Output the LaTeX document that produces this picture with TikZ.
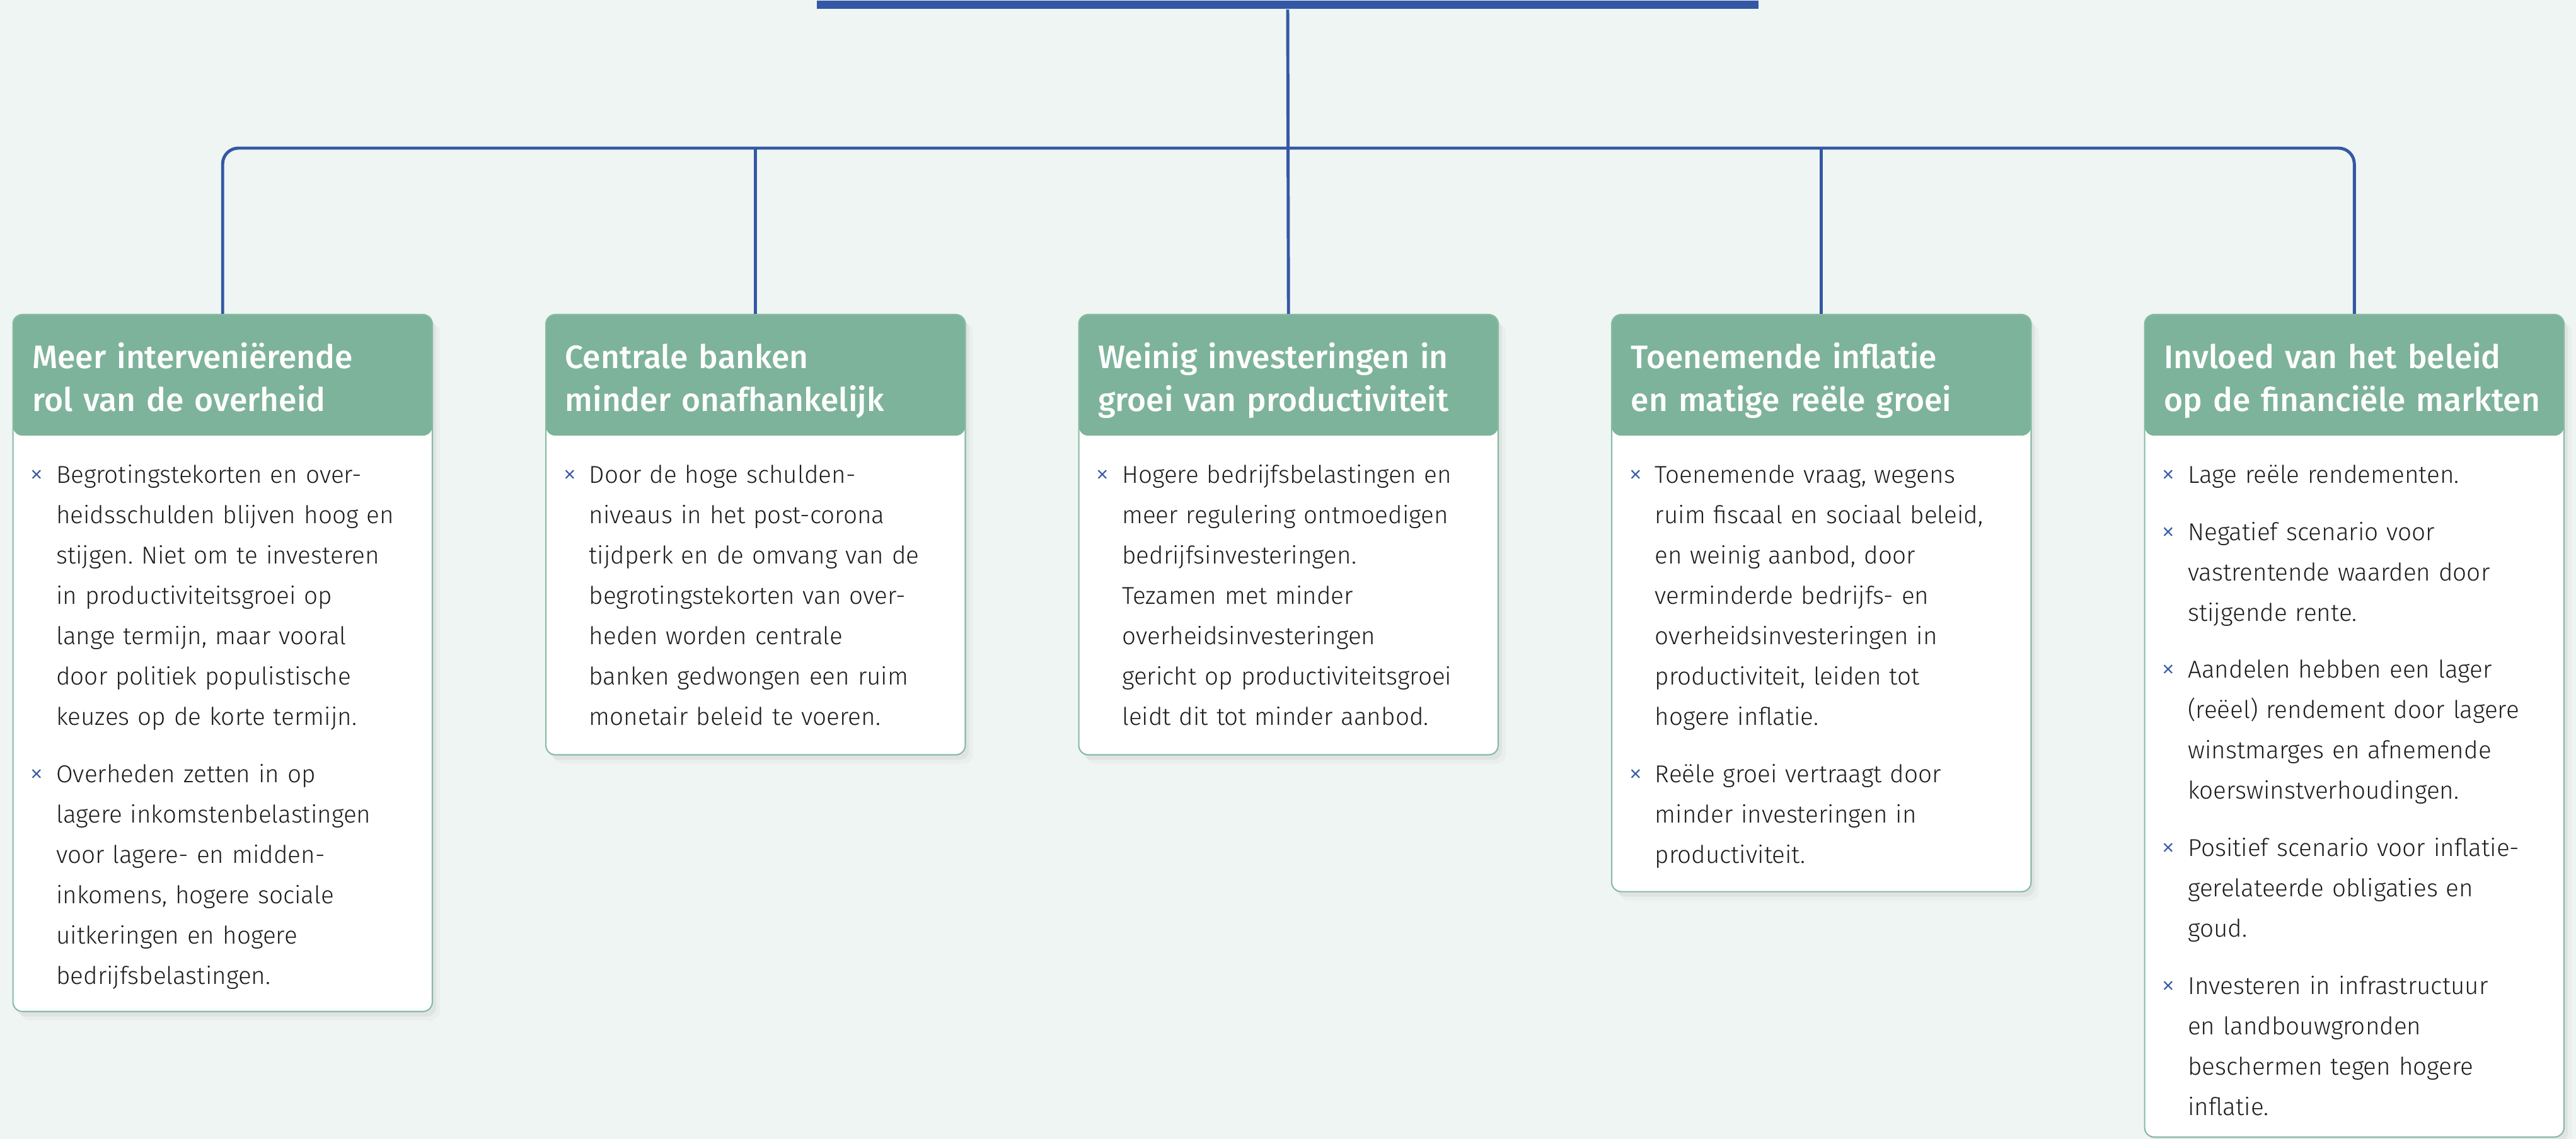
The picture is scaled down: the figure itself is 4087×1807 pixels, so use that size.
\documentclass[tikz,border=0pt]{standalone}
\usepackage{fontspec}
\setmainfont{Fira Sans Light}
\newfontfamily\kopfont{Fira Sans Medium}
\usetikzlibrary{positioning,shadows}

\definecolor{achtergrond}{HTML}{EFF5F3}
\definecolor{kopgroen}{HTML}{7DB39A}
\definecolor{randgroen}{HTML}{86BBA1}
\definecolor{lijnblauw}{HTML}{3458A5}
\definecolor{tekstgrijs}{HTML}{1C1C1C}

% bullet with a small blue cross
\newcommand{\punt}[1]{\noindent\llap{\textcolor{lijnblauw}{\fontsize{12.5}{12}\selectfont ×}\hspace{0.2cm}}\strut#1\par}

\tikzset{
  lijn/.style={draw=lijnblauw, line width=1.4pt},
  kaart/.style={draw=randgroen, line width=0.6pt, fill=white, rounded corners=0.15cm,
    anchor=north west, inner sep=0pt, minimum width=6.65cm,
    drop shadow={shadow xshift=0.12cm, shadow yshift=-0.14cm, opacity=0.05},
    drop shadow={shadow xshift=0.06cm, shadow yshift=-0.08cm, opacity=0.09},
    path picture={\fill[kopgroen] (path picture bounding box.north west) rectangle
      ([yshift=-1.92cm]path picture bounding box.north east);}},
  kop/.style={anchor=north west, inner sep=0pt, text width=7cm, align=left,
    text=white, font=\kopfont\fontsize{14.65}{19.3}\selectfont, execute at begin node=\strut},
  tekst/.style={anchor=north west, inner sep=0pt, text width=6.5cm, align=left,
    text=tekstgrijs, font=\fontsize{11}{18.2}\selectfont,
    execute at begin node={\frenchspacing\setlength{\parskip}{7.6pt}}}
}

\begin{document}
\begin{tikzpicture}[x=0.01cm, y=-0.01cm]
  \path[use as bounding box, fill=achtergrond] (0,0) rectangle (4087,1807);

  \node [fill=lijnblauw, inner sep=0pt, minimum width=14.93cm, minimum height=0.13cm] (top) at (2043,8) {};

  % kaarten
  \node [kaart, minimum height=11.05cm] (k1) at (19.5,498) {};
  \node [kaart, minimum height=6.98cm] (k2) at (865,498) {};
  \node [kaart, minimum height=6.98cm] (k3) at (1710.5,498) {};
  \node [kaart, minimum height=9.15cm] (k4) at (2556,498) {};
  \node [kaart, minimum height=13.04cm] (k5) at (3401.5,498) {};

  % verbindingen
  \coordinate (bus) at (2043,235);
  \draw [lijn, rounded corners=0.25cm] (k1.north) |- (bus) -| (k5.north);
  \draw [lijn] (top.south) -- (k3.north);
  \draw [lijn] (k2.north) -- (k2.north |- bus);
  \draw [lijn] (k4.north) -- (k4.north |- bus);

  % koppen
  \node [kop] (kop1) at (50.5,536.5) {Meer interveniërende\\rol van de overheid};
  \node [kop] (kop2) at (896,536.5) {Centrale banken\\minder onafhankelijk};
  \node [kop] (kop3) at (1741.5,536.5) {Weinig investeringen in\\groei van productiviteit};
  \node [kop] (kop4) at (2587,536.5) {Toenemende inflatie\\en matige reële groei};
  \node [kop] (kop5) at (3432.5,536.5) {Invloed van het beleid\\op de financiële markten};

  % teksten
  \node [tekst] (t1) at (88.5,721) {%
    \punt{Begrotingstekorten en over-\\heidsschulden blijven hoog en\\stijgen. Niet om te investeren\\in productiviteitsgroei op\\lange termijn, maar vooral\\door politiek populistische\\keuzes op de korte termijn.}
    \punt{Overheden zetten in op\\lagere inkomstenbelastingen\\voor lagere- en midden-\\inkomens, hogere sociale\\uitkeringen en hogere\\bedrijfsbelastingen.}};
  \node [tekst] (t2) at (934,721) {%
    \punt{Door de hoge schulden-\\niveaus in het post-corona\\tijdperk en de omvang van de\\begrotingstekorten van over-\\heden worden centrale\\banken gedwongen een ruim\\monetair beleid te voeren.}};
  \node [tekst] (t3) at (1779.5,721) {%
    \punt{Hogere bedrijfsbelastingen en\\meer regulering ontmoedigen\\bedrijfsinvesteringen.\\Tezamen met minder\\overheidsinvesteringen\\gericht op productiviteitsgroei\\leidt dit tot minder aanbod.}};
  \node [tekst] (t4) at (2625,721) {%
    \punt{Toenemende vraag, wegens\\ruim fiscaal en sociaal beleid,\\en weinig aanbod, door\\verminderde bedrijfs- en\\overheidsinvesteringen in\\productiviteit, leiden tot\\hogere inflatie.}
    \punt{Reële groei vertraagt door\\minder investeringen in\\productiviteit.}};
  \node [tekst] (t5) at (3470.5,721) {%
    \punt{Lage reële rendementen.}
    \punt{Negatief scenario voor\\vastrentende waarden door\\stijgende rente.}
    \punt{Aandelen hebben een lager\\(reëel) rendement door lagere\\winstmarges en afnemende\\koerswinstverhoudingen.}
    \punt{Positief scenario voor inflatie-\\gerelateerde obligaties en\\goud.}
    \punt{Investeren in infrastructuur\\en landbouwgronden\\beschermen tegen hogere\\inflatie.}};
\end{tikzpicture}
\end{document}
